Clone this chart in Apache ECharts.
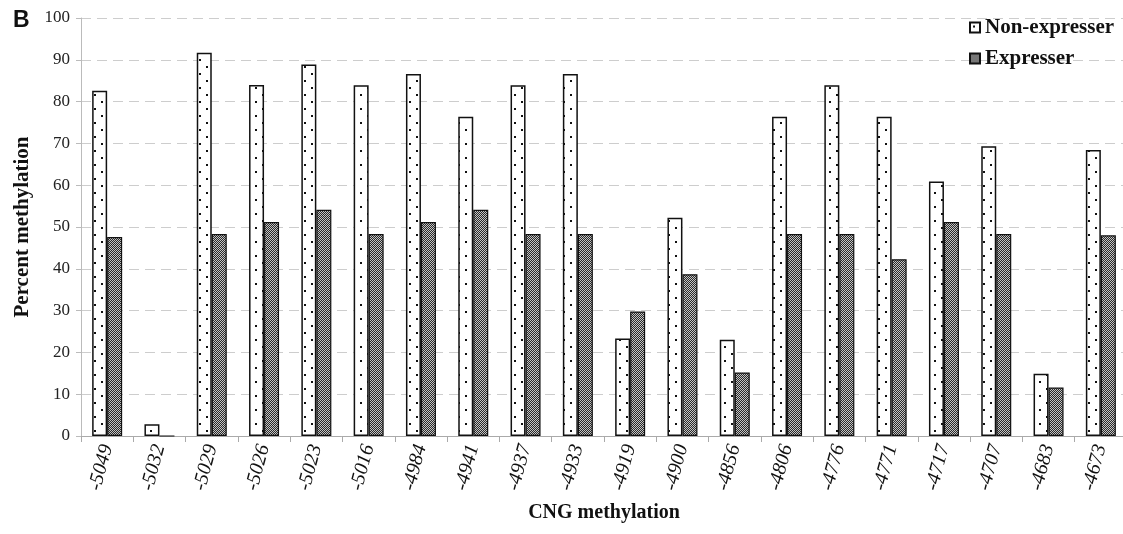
<!DOCTYPE html>
<html>
<head>
<meta charset="utf-8">
<script src="https://cdn.jsdelivr.net/npm/echarts@6/dist/echarts.min.js"></script>
<style>
  html, body { margin: 0; padding: 0; background: #fff; }
  #chart { width: 1123px; height: 534px; }
</style>
</head>
<body>
<div id="chart"></div>
<script>
// CNG site positions
const sites = ['-5049', '-5032', '-5029', '-5026', '-5023', '-5016', '-4984', '-4941', '-4937', '-4933',
               '-4919', '-4900', '-4856', '-4806', '-4776', '-4771', '-4717', '-4707', '-4683', '-4673'];
// Percent methylation per group
const nonExpresser = [82.6, 2.8, 91.7, 84.0, 88.9, 83.9, 86.6, 76.4, 83.9, 86.6,
                      23.3, 52.2, 23.0, 76.4, 83.9, 76.4, 60.9, 69.3, 14.9, 68.4];
const expresser    = [47.6, 0, 48.3, 51.2, 54.1, 48.3, 51.2, 54.1, 48.3, 48.3,
                      29.8, 38.7, 15.2, 48.3, 48.3, 42.3, 51.2, 48.3, 11.6, 48.0];
const yTicks = [0, 10, 20, 30, 40, 50, 60, 70, 80, 90, 100];

// sparse staggered dots on white
function dotPattern() {
  const c = document.createElement('canvas');
  c.width = 14; c.height = 14;
  const g = c.getContext('2d');
  g.fillStyle = '#fff';
  g.fillRect(0, 0, 14, 14);
  g.fillStyle = '#111';
  g.fillRect(3, 3, 2, 2);
  g.fillRect(10, 10, 2, 2);
  return c;
}
// fine dark checker
function checkerPattern() {
  const c = document.createElement('canvas');
  c.width = 2; c.height = 2;
  const g = c.getContext('2d');
  g.fillStyle = '#2a2a2a';
  g.fillRect(0, 0, 2, 2);
  g.fillStyle = '#c4c4c4';
  g.fillRect(0, 0, 1, 1);
  g.fillRect(1, 1, 1, 1);
  return c;
}

const serif = '"Liberation Serif", "DejaVu Serif", serif';
const chart = echarts.init(document.getElementById('chart'), null, { renderer: 'canvas' });

chart.setOption({
  animation: false,
  backgroundColor: '#fff',
  graphic: [{
    type: 'text', left: 13, top: 9,
    style: { text: 'B', font: 'bold 23px "Liberation Sans", Arial, sans-serif', fill: '#111' }
  }],
  legend: {
    orient: 'vertical',
    left: 964, top: 12,
    itemWidth: 10, itemHeight: 10,
    itemGap: 10,
    icon: 'rect',
    textStyle: { fontFamily: serif, fontWeight: 'bold', fontSize: 21, color: '#111' },
    data: ['Non-expresser', 'Expresser']
  },
  grid: { left: 81, top: 18, width: 1046, height: 418, containLabel: false, outerBoundsMode: 'none' },
  xAxis: {
    type: 'category',
    data: sites,
    name: 'CNG methylation',
    nameLocation: 'middle',
    nameGap: 67,
    nameTextStyle: { fontFamily: serif, fontWeight: 'bold', fontSize: 20, color: '#111' },
    axisLine: { lineStyle: { color: '#aaa', width: 1 } },
    axisTick: { show: true, length: 6, lineStyle: { color: '#aaa' } },
    axisLabel: {
      rotate: 75, margin: 9, interval: 0,
      fontFamily: serif, fontStyle: 'italic', fontSize: 20, color: '#111'
    }
  },
  yAxis: {
    type: 'value',
    min: yTicks[0], max: yTicks[yTicks.length - 1], interval: 10,
    name: 'Percent methylation',
    nameLocation: 'middle',
    nameGap: 48,
    nameTextStyle: { fontFamily: serif, fontWeight: 'bold', fontSize: 21, color: '#111' },
    axisLine: { show: true, lineStyle: { color: '#bbb', width: 1 } },
    axisTick: { show: true, length: 5, lineStyle: { color: '#bbb' } },
    axisLabel: { fontFamily: serif, fontSize: 17, color: '#222', margin: 11 },
    splitLine: { show: true, lineStyle: { color: '#cdcdcd', type: [10, 6], width: 1.2 } }
  },
  series: [
    {
      name: 'Non-expresser',
      type: 'bar',
      data: nonExpresser,
      barWidth: 15,
      barGap: '0%',
      itemStyle: { color: { image: dotPattern(), repeat: 'repeat' }, borderColor: '#111', borderWidth: 1.5 }
    },
    {
      name: 'Expresser',
      type: 'bar',
      data: expresser,
      barWidth: 15,
      itemStyle: { color: { image: checkerPattern(), repeat: 'repeat' }, borderColor: '#111', borderWidth: 1.2 }
    }
  ]
});
</script>
</body>
</html>
